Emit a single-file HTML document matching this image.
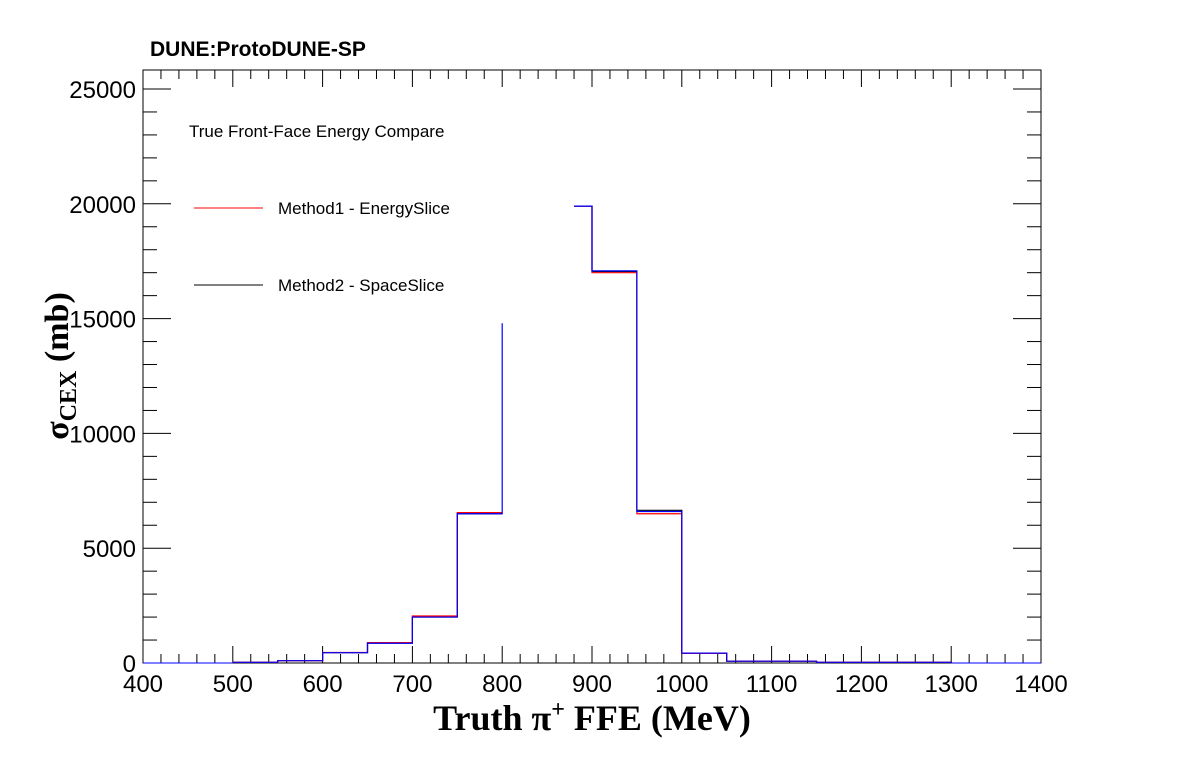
<!DOCTYPE html>
<html><head><meta charset="utf-8"><style>
body{margin:0;background:#fff;}
svg{display:block;font-family:"Liberation Sans",sans-serif;}
</style></head><body>
<svg id="c" width="1196" height="772">
<text x="150" y="56" font-size="21" font-weight="bold">DUNE:ProtoDUNE-SP</text>
<rect x="143" y="70" width="898" height="593" fill="none" stroke="#000" stroke-width="1"/>
<g id="axes"></g>
<g id="series"></g>
<text x="189" y="137" font-size="17">True Front-Face Energy Compare</text>
<line x1="194" y1="208" x2="263" y2="208" stroke="#f00" stroke-width="1"/>
<text x="278" y="214" font-size="17">Method1 - EnergySlice</text>
<line x1="194" y1="285" x2="263" y2="285" stroke="#000" stroke-width="1"/>
<text x="278" y="291" font-size="17">Method2 - SpaceSlice</text>
<text x="592" y="730" font-size="36" font-weight="bold" font-family="Liberation Serif,serif" text-anchor="middle">Truth  π<tspan dy="-13" font-size="24">+</tspan><tspan dy="13"> FFE (MeV)</tspan></text>
<text transform="translate(68,366) rotate(-90)" font-size="34" font-weight="bold" font-family="Liberation Serif,serif" text-anchor="middle">σ<tspan dy="8" font-size="24">CEX</tspan><tspan dy="-8"> (mb)</tspan></text>
</svg>
<script>
const xTicks=[400,500,600,700,800,900,1000,1100,1200,1300,1400];
const yTicks=[0,5000,10000,15000,20000,25000];
const binEdges=[500,550,600,650,700,750,800,880,900,950,1000,1050,1100,1150,1200,1250,1300];
const method2Values=[30,100,450,870,2000,6500,null,19900,17050,6650,430,80,80,30,30,30];
const method1Values=[30,100,460,890,2050,6550,null,19900,17000,6500,420,80,80,30,30,30];
const blueValues=[30,100,450,860,2000,6500,null,19900,17080,6600,430,80,80,30,30,30];
const blueSpikeTop=14800;

const X=v=>143+(v-400)*0.898, Y=v=>663-v*0.02296;
const NS="http://www.w3.org/2000/svg";
const ax=document.getElementById('axes'), sg=document.getElementById('series');
function ln(p,x1,y1,x2,y2,name){const l=document.createElementNS(NS,'line');
l.setAttribute('x1',x1);l.setAttribute('y1',y1);l.setAttribute('x2',x2);l.setAttribute('y2',y2);
l.setAttribute('stroke','#000');


p.appendChild(l);return l;}
function tx(s,x,y,anchor,name){const t=document.createElementNS(NS,'text');
t.setAttribute('x',x);t.setAttribute('y',y);t.setAttribute('font-size','24');t.setAttribute('text-anchor',anchor);t.textContent=s;


ax.appendChild(t);}
for(let v=400;v<=1400;v+=20){const maj=v%100===0;const x=X(v);
ln(ax,x,663,x,663-(maj?17:9),'x-tick');ln(ax,x,70,x,70+(maj?17:9),'x-tick-top');}
xTicks.forEach(v=>tx(String(v),X(v),692,'middle','x-tick-label'));
for(let v=0;v<=25800;v+=1000){const maj=v%5000===0;const y=Y(v);
ln(ax,143,y,143+(maj?28:14),y,'y-tick');ln(ax,1041,y,1041-(maj?28:14),y,'y-tick-right');}
yTicks.forEach(v=>tx(String(v),136,Y(v)+9,'end','y-tick-label'));
function hist(vals,color,name,spike){
 let d='';let prev=null;
 for(let i=0;i<vals.length;i++){const v=vals[i];const x0=X(binEdges[i]),x1=X(binEdges[i+1]);
  if(v===null){ if(prev!==null&&spike!=null){d+=`L${x0},${Y(spike)}`;} prev=null;continue;}
  if(prev===null){d+=`M${x0},${Y(v)}`;}else{d+=`L${x0},${Y(v)}`;}
  d+=`L${x1},${Y(v)}`;prev=v;}
 d+=`L${X(binEdges[binEdges.length-1])},${Y(0)}`;
 const p=document.createElementNS(NS,'path');p.setAttribute('d',d);p.setAttribute('fill','none');
 p.setAttribute('stroke',color);p.setAttribute('stroke-width','1.2');
 
 
 sg.appendChild(p);}
ln(sg,X(400),Y(0),X(500),Y(0),'baseline-blue').setAttribute('stroke','#00f');
hist(method2Values,'#000','series-method2',null);
hist(method1Values,'#f00','series-method1',null);
hist(blueValues,'#00f','series-blue',blueSpikeTop);
ln(sg,X(1300),Y(0),X(1400),Y(0),'baseline-blue-right').setAttribute('stroke','#00f');
</script>
</body></html>
